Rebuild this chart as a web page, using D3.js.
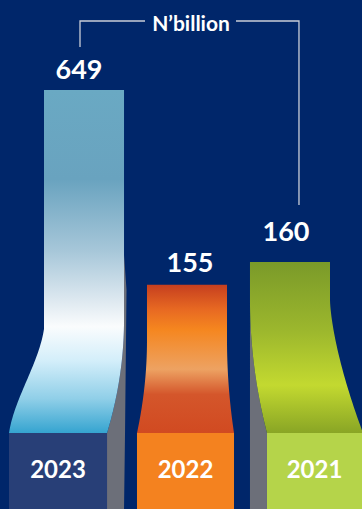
<!DOCTYPE html>
<html><head><meta charset="utf-8">
<script src="https://cdn.jsdelivr.net/npm/d3@7"></script>
<style>html,body{margin:0;padding:0;background:#00266a;overflow:hidden}</style>
</head><body><svg id="c" width="362" height="509"></svg>
<script>
// ---- data ----
const years = ["2023", "2022", "2021"];
const values = [649, 155, 160];
const unitLabel = "N’billion";

// ---- layout / style ----
const W = 362, H = 509, baseY = 433;
const lift = [0, 0, 21];          // perspective lift of each ribbon
const labelGap = [11, 13, 21];
const labelDx = [-5, 3, -4];
const boxColors = ["#283f77", "#f4821f", "#b5d44a"];
const shadowColor = "#6c6f79";
const gradStops = [
  [[0,"#6aa9c3"],[0.26,"#69a3bf"],[0.47,"#a7c7d9"],[0.62,"#e0eaf1"],[0.69,"#fafcfd"],[0.79,"#d3eefa"],[0.9,"#90cfe8"],[1,"#35a4d0"]],
  [[0,"#c63f1f"],[0.17,"#e86a22"],[0.3,"#f5861f"],[0.57,"#eda262"],[0.74,"#d4562b"],[1,"#d14a21"]],
  [[0,"#7a9a29"],[0.4,"#9cb72d"],[0.72,"#c3d930"],[1,"#89a525"]]
];
const smooth = s => s*s*(3-2*s);
const bend = s => 0.55*smooth(s) + 0.45*s;
const quad = s => s*s;
const p15 = s => Math.pow(s, 1.5);
const edges = [
  {L:{ys:329, dx:-35, ease:bend}, R:{ys:320, dx:-17, ease:quad}, shadow:"right"},
  {L:{ys:340, dx:-10, ease:quad}, R:{ys:340, dx:7,   ease:quad}, shadow:null},
  {L:{ys:300, dx:17,  ease:quad}, R:{ys:300, dx:33,  ease:p15},  shadow:"left"}
];

const svg = d3.select("#c");
svg.append("rect").attr("width", W).attr("height", H).attr("fill", "#00266a");

const x = d3.scaleBand().domain(years).range([44, 330]).paddingInner(0.223).paddingOuter(0);
const y = d3.scaleLinear().domain([0, 649]).range([346, 90]);
const bw = x.bandwidth();
const line = d3.line();
const N = 40;

function edgePts(xs, e) {
  const pts = [];
  for (let k = 0; k <= N; k++) {
    const s = k / N;
    pts.push([xs + e.dx * e.ease(s), e.ys + s * (baseY - e.ys)]);
  }
  return pts;
}

const defs = svg.append("defs");
years.forEach((yr, i) => {
  const top = y(values[i]) - lift[i];
  const g = defs.append("linearGradient").attr("id", "g" + i)
    .attr("gradientUnits", "userSpaceOnUse")
    .attr("x1", 0).attr("x2", 0).attr("y1", top).attr("y2", baseY);
  gradStops[i].forEach(st => g.append("stop").attr("offset", st[0]).attr("stop-color", st[1]));
});

years.forEach((yr, i) => {
  const v = values[i];
  const top = y(v) - lift[i];
  const x0 = x(yr), x1 = x0 + bw;
  const e = edges[i];
  const left = edgePts(x0, e.L);
  const right = edgePts(x1, e.R);

  // shadow side
  if (e.shadow === "right") {
    const pts = [[x1, 255], [x1 + 2.5, 290], [x1 + 1, baseY], [x1, H], [x1 + e.R.dx, H]]
      .concat(right.slice().reverse());
    svg.append("path").attr("d", line(pts) + "Z").attr("fill", shadowColor);
  } else if (e.shadow === "left") {
    const pts = [[x0, e.L.ys], [x0, H], [x0 + e.L.dx, H]].concat(left.slice().reverse());
    svg.append("path").attr("d", line(pts) + "Z").attr("fill", shadowColor);
  }

  // ribbon
  const pts = [[x0, top]].concat(left).concat(right.slice().reverse()).concat([[x1, top]]);
  svg.append("path").attr("d", line(pts) + "Z").attr("fill", `url(#g${i})`);

  // base box
  const bx0 = x0 + e.L.dx, bx1 = x1 + e.R.dx;
  svg.append("rect").attr("x", bx0).attr("y", baseY).attr("width", bx1 - bx0).attr("height", H - baseY)
    .attr("fill", boxColors[i]);
  svg.append("text").attr("x", (bx0 + Math.min(bx1, W)) / 2).attr("y", 478)
    .attr("text-anchor", "middle").attr("fill", "#fff")
    .attr("font-family", "Lato, 'Open Sans', sans-serif").attr("font-weight", 700).attr("font-size", 24)
    .text(yr);

  // value label
  svg.append("text").attr("x", x0 + bw / 2 + labelDx[i]).attr("y", top - labelGap[i])
    .attr("text-anchor", "middle").attr("fill", "#fff")
    .attr("font-family", "Lato, 'Open Sans', sans-serif").attr("font-weight", 700).attr("font-size", 27)
    .text(d3.format("d")(v));
});

// unit bracket
const bl = x(years[0]) + 36, br = x(years[2]) + 49;
svg.append("path")
  .attr("d", `M${bl},47V21H145M236,21H${br}V205`)
  .attr("fill", "none").attr("stroke", "#c9cdd8").attr("stroke-width", 1.3);
svg.append("text").attr("x", 191).attr("y", 31).attr("text-anchor", "middle").attr("fill", "#fff")
  .attr("font-family", "Lato, 'Open Sans', sans-serif").attr("font-weight", 700).attr("font-size", 21)
  .text(unitLabel);
</script></body></html>
